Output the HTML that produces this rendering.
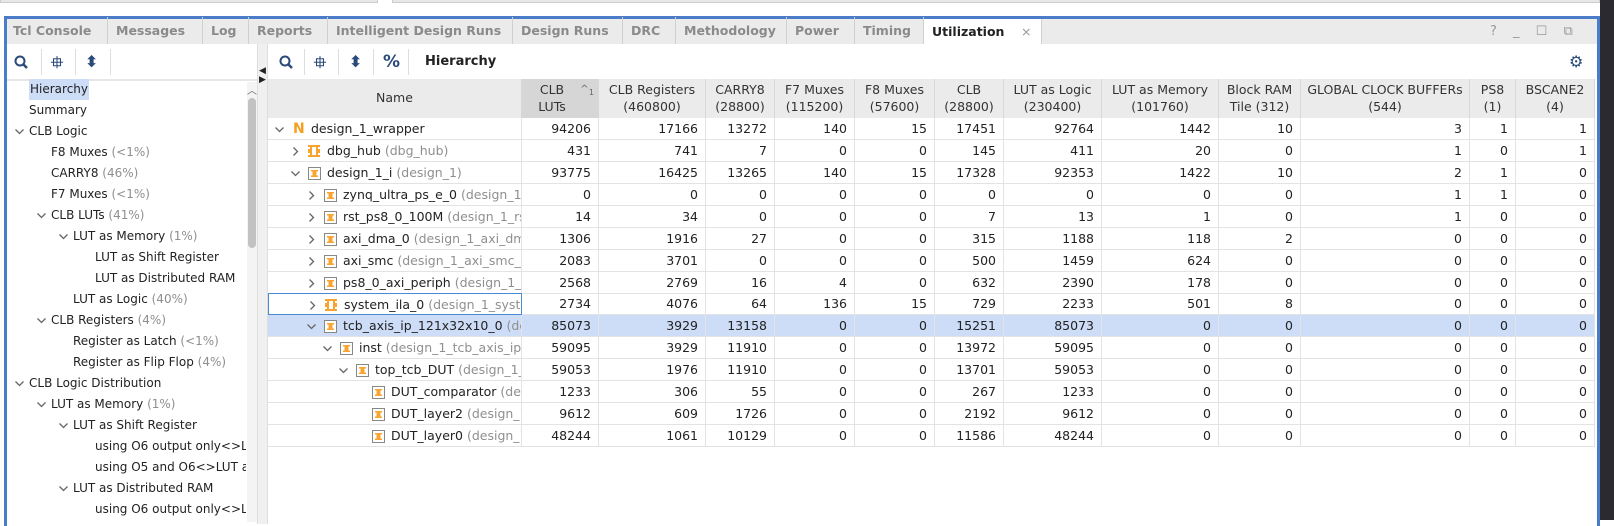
<!DOCTYPE html>
<html><head><meta charset="utf-8">
<style>
*{box-sizing:border-box;margin:0;padding:0}
body{width:1614px;height:520px;overflow:hidden;background:#fff;font-family:"DejaVu Sans","Liberation Sans",sans-serif;font-size:12px;color:#222;position:relative}
.abs{position:absolute}
.tab{position:absolute;top:17px;height:27px;line-height:27px;padding-left:8px;color:#8a8a8a;font-weight:bold;font-size:12.5px;border-right:1px solid #d0d0d0;white-space:nowrap}
.tree{position:absolute;white-space:nowrap;height:21px;line-height:21px}
.g{color:#8f8f8f}
.hd{position:absolute;top:79px;height:39px;background:#ebebeb;border-right:1px solid #d8d8d8;text-align:center;font-size:12.5px;line-height:17px;padding-top:2px;color:#333}
.cell{position:absolute;height:22px;line-height:22px;text-align:right;padding-right:7px;border-right:1px solid #e3e3e3;border-bottom:1px solid #e3e3e3;font-size:12.5px;white-space:nowrap;overflow:hidden}
.tb{position:absolute;top:52px;color:#2a4a7a;font-size:16px;font-weight:bold}
.sep{position:absolute;top:49px;width:1px;height:26px;background:#ddd}
svg{position:absolute;overflow:visible}
</style></head><body>
<div class="abs" style="left:0;top:0;width:378px;height:3px;background:#e8e8e8;border:1px solid #ccc;border-top:none"></div>
<div class="abs" style="left:392px;top:0;width:1208px;height:3px;background:#e8e8e8;border:1px solid #ccc;border-top:none"></div>
<div class="abs" style="left:1600px;top:0;width:14px;height:520px;background:#2a2a30"></div>
<div class="abs" style="left:4px;top:16px;width:1596px;height:510px;border:3px solid #4a7cc9;border-bottom:none"></div>
<div class="abs" style="left:7px;top:19px;width:1590px;height:25px;background:#ebebeb"></div>
<div id="tabs"></div>
<div class="abs" style="left:1490px;top:19px;height:25px;line-height:25px;color:#999;font-size:13px;letter-spacing:6px">? _ ☐ ⧉</div>

<svg style="left:14px;top:55px" width="16" height="16"><circle cx="6" cy="6" r="4.5" fill="none" stroke="#2a4a7a" stroke-width="2"/><line x1="9" y1="9" x2="13" y2="13" stroke="#2a4a7a" stroke-width="2.5"/></svg>
<div class="sep" style="left:41px"></div>
<div class="tb" style="left:51px">⯐</div>
<div class="sep" style="left:75px"></div>
<div class="tb" style="left:85px">⬍</div>
<div class="sep" style="left:110px"></div>
<div class="abs" style="left:7px;top:79px;width:260px;height:2px;background:#e6e6e6"></div>
<div class="abs" style="left:257px;top:44px;width:11px;height:480px;background:#f0f0f0;border-left:1px solid #ddd;border-right:1px solid #ddd"></div>
<div class="abs" style="left:259px;top:66px;font-size:9px">◀</div>
<div class="abs" style="left:259px;top:75px;font-size:9px">▶</div>
<div class="abs" style="left:247px;top:82px;width:10px;height:440px;background:#f4f4f4"></div>
<div class="abs" style="left:247px;top:82px;font-size:10px;color:#666">︿</div>
<div class="abs" style="left:248px;top:98px;width:8px;height:150px;background:#c2c2c2;border-radius:4px"></div>
<div id="tree"></div>

<svg style="left:279px;top:55px" width="16" height="16"><circle cx="6" cy="6" r="4.5" fill="none" stroke="#2a4a7a" stroke-width="2"/><line x1="9" y1="9" x2="13" y2="13" stroke="#2a4a7a" stroke-width="2.5"/></svg>
<div class="sep" style="left:304px"></div>
<div class="tb" style="left:314px">⯐</div>
<div class="sep" style="left:338px"></div>
<div class="tb" style="left:349px">⬍</div>
<div class="sep" style="left:373px"></div>
<div class="tb" style="left:383px;font-size:17px">%</div>
<div class="sep" style="left:408px"></div>
<div class="abs" style="left:425px;top:54px;font-weight:bold;font-size:13px">Hierarchy</div>
<div class="abs" style="left:1569px;top:52px;color:#2a4a7a;font-size:16px">⚙</div>
<div id="table"></div>

<script>
var tabNames=["Tcl Console","Messages","Log","Reports","Intelligent Design Runs","Design Runs","DRC","Methodology","Power","Timing","Utilization"];
var tabEdges=[5,108,203,249,328,513,623,676,787,855,924,1042];
var treeItems=[["Hierarchy","",0,""],["Summary","",0,""],["CLB Logic","",0,"v"],["F8 Muxes"," (<1%)",1,""],["CARRY8"," (46%)",1,""],["F7 Muxes"," (<1%)",1,""],["CLB LUTs"," (41%)",1,"v"],["LUT as Memory"," (1%)",2,"v"],["LUT as Shift Register","",3,""],["LUT as Distributed RAM","",3,""],["LUT as Logic"," (40%)",2,""],["CLB Registers"," (4%)",1,"v"],["Register as Latch"," (<1%)",2,""],["Register as Flip Flop"," (4%)",2,""],["CLB Logic Distribution","",0,"v"],["LUT as Memory"," (1%)",1,"v"],["LUT as Shift Register","",2,"v"],["using O6 output only<>LUT","",3,""],["using O5 and O6<>LUT as","",3,""],["LUT as Distributed RAM","",2,"v"],["using O6 output only<>LUT","",3,""]];
var headers=["CLB<br>LUTs","CLB Registers<br>(460800)","CARRY8<br>(28800)","F7 Muxes<br>(115200)","F8 Muxes<br>(57600)","CLB<br>(28800)","LUT as Logic<br>(230400)","LUT as Memory<br>(101760)","Block RAM<br>Tile (312)","GLOBAL CLOCK BUFFERs<br>(544)","PS8<br>(1)","BSCANE2<br>(4)"];
var colEdges=[268,522,599,706,775,855,935,1004,1102,1219,1301,1470,1516,1595];
var rowNames=[["design_1_wrapper","",0,"v"],["dbg_hub"," (dbg_hub)",1,">"],["design_1_i"," (design_1)",1,"v"],["zynq_ultra_ps_e_0"," (design_1_zynq",2,">"],["rst_ps8_0_100M"," (design_1_rst",2,">"],["axi_dma_0"," (design_1_axi_dma",2,">"],["axi_smc"," (design_1_axi_smc_0",2,">"],["ps8_0_axi_periph"," (design_1_ps8",2,">"],["system_ila_0"," (design_1_system",2,">"],["tcb_axis_ip_121x32x10_0"," (design",2,"v"],["inst"," (design_1_tcb_axis_ip_",3,"v"],["top_tcb_DUT"," (design_1_top",4,"v"],["DUT_comparator"," (design",5,""],["DUT_layer2"," (design_1",5,""],["DUT_layer0"," (design_1",5,""]];
var clbLuts=[94206,431,93775,0,14,1306,2083,2568,2734,85073,59095,59053,1233,9612,48244];
var clbRegs=[17166,741,16425,0,34,1916,3701,2769,4076,3929,3929,1976,306,609,1061];
var carry8=[13272,7,13265,0,0,27,0,16,64,13158,11910,11910,55,1726,10129];
var f7=[140,0,140,0,0,0,0,4,136,0,0,0,0,0,0];
var f8=[15,0,15,0,0,0,0,0,15,0,0,0,0,0,0];
var clb=[17451,145,17328,0,7,315,500,632,729,15251,13972,13701,267,2192,11586];
var lutLogic=[92764,411,92353,0,13,1188,1459,2390,2233,85073,59095,59053,1233,9612,48244];
var lutMem=[1442,20,1422,0,1,118,624,178,501,0,0,0,0,0,0];
var bram=[10,0,10,0,0,2,0,0,8,0,0,0,0,0,0];
var gcb=[3,1,2,1,1,0,0,0,0,0,0,0,0,0,0];
var ps8=[1,0,1,1,0,0,0,0,0,0,0,0,0,0,0];
var bscane=[1,1,0,0,0,0,0,0,0,0,0,0,0,0,0];
var series=[clbLuts,clbRegs,carry8,f7,f8,clb,lutLogic,lutMem,bram,gcb,ps8,bscane];

function chev(x,y,down){
  return down?'<svg style="left:'+x+'px;top:'+y+'px" width="9" height="6"><polyline points="0.5,0.5 4.5,4.5 8.5,0.5" fill="none" stroke="#666" stroke-width="1.3"/></svg>'
             :'<svg style="left:'+(x+2)+'px;top:'+(y-2)+'px" width="6" height="9"><polyline points="0.5,0.5 4.5,4.5 0.5,8.5" fill="none" stroke="#666" stroke-width="1.3"/></svg>';
}
var tabs=document.getElementById('tabs');
tabNames.forEach(function(n,i){
  var d=document.createElement('div');d.className='tab';
  
  
  d.style.left=tabEdges[i]+'px';d.style.width=(tabEdges[i+1]-tabEdges[i])+'px';
  if(i==tabNames.length-1){d.style.background='#fff';d.style.color='#222';d.style.top='19px';d.style.height='25px';d.style.lineHeight='25px';d.innerHTML=n+'<span style="position:absolute;left:97px;color:#999;font-weight:normal">×</span>';}
  else d.textContent=n;
  tabs.appendChild(d);
});
var tree=document.getElementById('tree');
treeItems.forEach(function(t,i){
  var y=79+21*i, x=29+22*t[2];
  if(t[3]){var c=document.createElement('div');c.innerHTML=chev(x-14,y+8,true);tree.appendChild(c);}
  var d=document.createElement('div');d.className='tree';
  
  
  d.style.left=x+'px';d.style.top=y+'px';d.style.maxWidth=(246-x)+'px';d.style.overflow='hidden';
  d.innerHTML=t[0]+'<span class="g">'+t[1]+'</span>';
  if(i==0){d.style.background='#cddcf7';d.style.padding='0 1px';}
  tree.appendChild(d);
});
var tbl=document.getElementById('table');
var nh=document.createElement('div');nh.className='hd';nh.style.left='268px';nh.style.width='254px';nh.style.paddingTop='10px';nh.textContent='Name';


tbl.appendChild(nh);
headers.forEach(function(h,i){
  var d=document.createElement('div');d.className='hd';
  
  
  d.style.left=colEdges[i+1]+'px';d.style.width=(colEdges[i+2]-colEdges[i+1])+'px';
  d.innerHTML=h;
  if(i==0){d.style.background='#d6d6d6';d.innerHTML='<span style="position:relative;left:-8px;display:inline-block">'+h+'</span><span style="position:absolute;right:4px;top:2px;font-size:10px;color:#666">^<sub>1</sub></span>';}
  tbl.appendChild(d);
});
var RH=21.93, TOP=118;
rowNames.forEach(function(r,i){
  var y=TOP+RH*i;
  if(i==9){var hl=document.createElement('div');hl.className='abs';hl.style.cssText='left:268px;top:'+y+'px;width:1327px;height:22px;background:#cddcf7';
    
    
    tbl.appendChild(hl);}
  var nc=document.createElement('div');nc.className='cell';
  
  
  nc.style.left='268px';nc.style.top=y+'px';nc.style.width='254px';nc.style.textAlign='left';nc.style.padding='0';
  var tx=43+16*r[2];
  var cx=7+16*r[2];
  var html='';
  if(r[3])html+=chev(cx,9,r[3]=='v');
  if(i==0)html+='<span style="position:absolute;left:'+(tx-18)+'px;color:#f5a020;font-weight:bold;font-size:14px">N</span>';
  else if(i==1||i==8)html+='<svg style="left:'+(tx-19)+'px;top:5px" width="12" height="12"><rect x="0" y="0" width="12" height="12" fill="#f7a530"/><rect x="4" y="2" width="4" height="8" fill="#fff"/><rect x="0" y="2" width="2" height="2" fill="#fff"/><rect x="10" y="2" width="2" height="2" fill="#fff"/><rect x="0" y="8" width="2" height="2" fill="#fff"/><rect x="10" y="8" width="2" height="2" fill="#fff"/></svg>';
  else html+='<svg style="left:'+(tx-19)+'px;top:5px" width="13" height="13"><rect x="0.5" y="0.5" width="12" height="12" fill="#fff" stroke="#888"/><rect x="3" y="3" width="7" height="1.5" fill="#f7a530"/><rect x="4.5" y="3" width="4" height="7" fill="#f7a530"/><rect x="3" y="8.5" width="7" height="1.5" fill="#f7a530"/></svg>';
  html+='<span style="position:absolute;left:'+tx+'px">'+r[0]+'<span class="g">'+r[1]+'</span></span>';
  nc.innerHTML=html;
  if(i==8){nc.style.border='1px solid #4a8ad4';}
  tbl.appendChild(nc);
  series.forEach(function(s,j){
    var c=document.createElement('div');c.className='cell';
    
    
    c.style.left=colEdges[j+1]+'px';c.style.top=y+'px';c.style.width=(colEdges[j+2]-colEdges[j+1])+'px';
    c.textContent=s[i];
    tbl.appendChild(c);
  });
});
</script>
</body></html>
